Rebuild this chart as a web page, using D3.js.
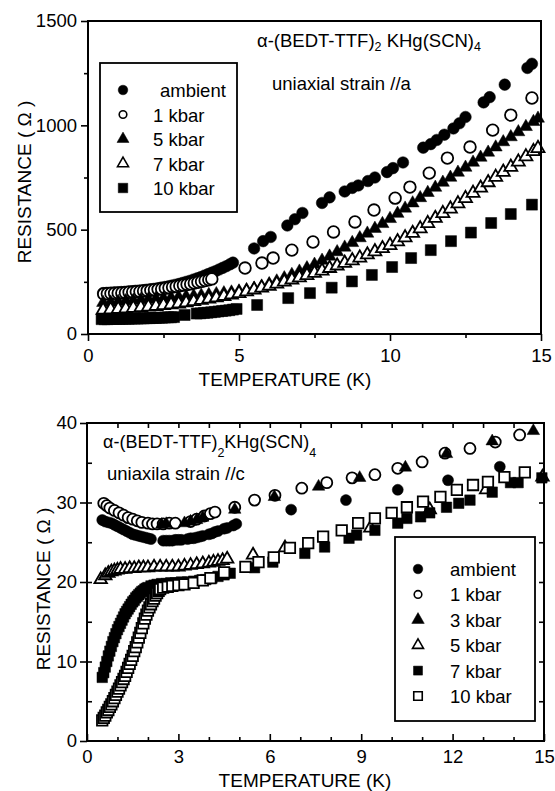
<!DOCTYPE html>
<html>
<head>
<meta charset="utf-8">
<script src="https://cdn.jsdelivr.net/npm/d3@7/dist/d3.min.js"></script>
<style>
  html, body { margin: 0; padding: 0; background: #fff; }
  svg { display: block; font-family: "Liberation Sans", Arial, Helvetica, sans-serif; }
</style>
</head>
<body>
<svg id="chart" width="555" height="791"></svg>
<script>
// ---------- Upper panel: uniaxial strain //a  (T in K, R in ohm) ----------
const aAmbient = [
  [0.50,196],[0.62,197],[0.74,198],[0.86,199],[0.98,200],[1.10,201],[1.22,202],[1.34,204],
  [1.46,205],[1.58,207],[1.70,208],[1.82,210],[1.94,212],[2.06,214],[2.18,216],[2.30,219],
  [2.42,222],[2.54,225],[2.66,228],[2.78,232],[2.90,236],[3.02,240],[3.14,245],[3.26,250],
  [3.38,255],[3.50,261],[3.62,267],[3.74,273],[3.86,280],[3.98,287],[4.10,294],[4.22,301],
  [4.34,309],[4.46,317],[4.58,325],[4.70,334],[4.80,342],
  [5.50,410],[5.80,445],[6.05,465],[6.60,520],[6.85,550],[7.10,580],[7.75,628],[8.00,655],
  [8.50,683],[8.75,700],[8.95,712],[9.27,733],[9.50,750],[9.90,776],[10.10,795],[10.43,822],
  [11.10,893],[11.35,910],[11.55,930],[11.80,955],[12.10,985],[12.30,1010],[12.50,1040],
  [13.10,1110],[13.30,1135],[13.80,1195],[14.55,1275],[14.70,1295]
];
const a1kbar = [
  [0.52,192],[0.64,193],[0.76,194],[0.88,195],[1.00,196],[1.12,197],[1.24,198],[1.36,200],
  [1.48,201],[1.60,203],[1.72,204],[1.84,206],[1.96,208],[2.08,210],[2.20,212],[2.32,214],
  [2.44,216],[2.56,219],[2.68,222],[2.80,225],[2.92,228],[3.04,231],[3.16,234],[3.28,237],
  [3.40,240],[3.52,244],[3.64,248],[3.76,252],[3.88,256],[4.00,260],[4.10,264],
  [5.20,316],[5.76,340],[6.13,364],[6.75,402],[7.45,441],[8.13,489],[8.84,537],[9.47,594],
  [10.17,651],[10.66,704],[11.30,771],[11.90,843],[12.65,896],[13.40,977],[14.00,1049],[14.70,1131]
];
const a5kbar = [
  [0.50,150],[0.75,152],[1.00,155],[1.25,158],[1.50,160],[1.75,163],[2.00,166],[2.25,169],
  [2.50,171],[2.75,174],[3.00,177],[3.25,180],[3.50,182],[3.75,185],[4.00,188],[4.25,192],
  [4.50,196],[4.75,200],[5.00,205],[5.25,211],[5.50,218],[5.75,228],[6.00,240],[6.25,253],
  [6.50,268],[6.75,284],[7.00,300],[7.25,316],[7.50,333],[7.75,352],[8.00,372],[8.25,393],
  [8.50,415],[8.75,437],[9.00,460],[9.25,482],[9.50,505],[9.75,528],[10.00,552],[10.25,577],
  [10.50,602],[10.75,627],[11.00,652],[11.25,677],[11.50,702],[11.75,726],[12.00,750],[12.25,774],
  [12.50,798],[12.75,822],[13.00,846],[13.25,870],[13.50,895],[13.75,920],[14.00,944],[14.25,968],
  [14.50,993],[14.75,1017],[14.90,1033]
];
const a7kbar = [
  [0.50,115],[0.75,117],[1.00,119],[1.25,121],[1.50,124],[1.75,127],[2.00,130],[2.25,133],
  [2.50,137],[2.75,141],[3.00,145],[3.25,150],[3.50,156],[3.75,162],[4.00,168],[4.25,174],
  [4.50,181],[4.75,188],[5.00,195],[5.25,203],[5.50,212],[5.75,221],[6.00,230],[6.25,240],
  [6.50,250],[6.75,260],[7.00,270],[7.25,281],[7.50,292],[7.75,303],[8.00,315],[8.25,327],
  [8.50,340],[8.75,352],[9.00,365],[9.25,380],[9.50,395],[9.75,410],[10.00,425],[10.25,443],
  [10.50,462],[10.75,483],[11.00,505],[11.25,530],[11.50,555],[11.75,578],[12.00,600],[12.25,625],
  [12.50,650],[12.75,675],[13.00,700],[13.25,726],[13.50,752],[13.75,776],[14.00,800],[14.25,825],
  [14.50,850],[14.75,875],[14.90,890]
];
const a10kbar = [
  [0.45,71],[0.55,71],[0.65,71],[0.75,72],[0.85,72],[0.95,72],[1.05,72],[1.15,73],[1.25,73],
  [1.35,73],[1.45,74],[1.55,74],[1.65,74],[1.75,75],[1.85,75],[1.95,76],[2.05,76],[2.15,77],
  [2.25,77],[2.35,78],[2.45,78],[2.55,79],[2.65,80],[2.75,80],[2.85,81],[3.20,91],
  [3.60,98],[3.72,99],[3.84,101],[3.96,102],[4.08,104],[4.20,106],[4.32,108],[4.44,110],
  [4.56,112],[4.68,114],[4.80,117],[4.92,120],[5.60,139],[6.63,172],[7.35,196],[8.07,222],
  [8.74,252],[9.40,283],[10.07,321],[10.70,364],[11.35,402],[12.02,445],[12.68,486],
  [13.35,532],[14.00,575],[14.70,620]
];

// ---------- Lower panel: uniaxial strain //c ----------
const cAmbient = [
  [0.50,27.8],[0.60,27.6],[0.70,27.5],[0.80,27.4],[0.90,27.2],[1.00,27.0],[1.10,26.8],[1.20,26.6],
  [1.30,26.4],[1.40,26.2],[1.50,26.0],[1.60,25.9],[1.70,25.8],[1.80,25.7],[1.90,25.6],[2.00,25.5],
  [2.10,25.4],[2.50,25.2],[2.60,25.2],[2.70,25.2],[2.80,25.2],[2.90,25.3],[3.00,25.3],[3.10,25.3],
  [3.30,25.4],[3.40,25.5],[3.50,25.5],[3.60,25.6],[3.70,25.7],[3.80,25.8],[4.00,26.0],[4.10,26.1],
  [4.20,26.3],[4.30,26.4],[4.50,26.7],[4.60,26.8],[4.80,27.1],[4.90,27.3],
  [6.70,29.1],[8.50,30.3],[10.20,31.6],[11.85,32.8],[13.55,34.5]
];
const c1kbar = [
  [0.55,29.9],[0.65,29.6],[0.75,29.3],[0.90,29.0],[1.05,28.7],[1.20,28.4],[1.35,28.1],[1.50,27.9],
  [1.65,27.7],[1.80,27.5],[2.00,27.4],[2.15,27.3],[2.30,27.3],[2.50,27.3],[2.70,27.4],[2.90,27.4],
  [3.40,27.6],[3.60,27.9],[3.85,28.3],[4.05,28.6],[4.20,28.8],[4.85,29.4],
  [5.50,30.3],[6.17,30.9],[7.05,31.8],[7.87,32.5],[8.70,33.1],[9.45,33.5],[10.20,34.3],
  [11.00,35.1],[11.75,36.2],[12.57,36.8],[13.40,37.6],[14.20,38.5]
];
const c3kbar = [
  [2.45,27.2],[2.60,27.3],[3.20,27.4],[3.40,27.6],[3.60,27.8],[3.80,28.1],[4.85,29.1],
  [6.15,30.7],[7.60,32.0],[8.95,33.1],[10.45,34.4],[11.80,36.1],[13.30,37.7],[14.65,39.0]
];
const c5kbar = [
  [0.45,20.3],[0.60,20.8],[0.70,21.1],[0.80,21.3],[0.90,21.4],[1.00,21.5],[1.10,21.6],[1.25,21.6],
  [1.40,21.7],[1.55,21.7],[1.70,21.8],[1.85,21.8],[2.00,21.8],[2.20,21.9],[2.40,21.9],[2.60,21.9],
  [2.80,21.9],[3.00,21.9],[3.20,22.0],[3.40,22.1],[3.60,22.2],[3.80,22.3],[4.00,22.4],[4.15,22.5],
  [4.30,22.6],[4.45,22.7],[4.60,22.9],[5.45,23.4],[6.50,24.3],[9.30,26.8],[11.25,29.1],
  [13.10,31.6],[14.95,33.2]
];
const c7kbar = [
  [0.50,8.0],[0.55,8.6],[0.60,9.3],[0.65,10.0],[0.70,10.7],[0.75,11.3],[0.80,11.9],[0.85,12.5],
  [0.90,13.0],[0.95,13.5],[1.00,14.0],[1.05,14.4],[1.10,14.8],[1.15,15.2],[1.20,15.6],[1.25,16.0],
  [1.30,16.3],[1.35,16.6],[1.40,16.9],[1.45,17.2],[1.50,17.5],[1.55,17.7],[1.60,18.0],[1.65,18.2],
  [1.70,18.4],[1.75,18.6],[1.80,18.8],[1.85,18.9],[1.90,19.1],[1.95,19.2],[2.00,19.3],[2.10,19.5],
  [2.20,19.6],[2.30,19.7],[2.45,19.8],[2.60,19.8],[2.75,19.9],[2.90,19.9],[3.10,20.0],[3.30,20.0],
  [3.50,20.1],[3.70,20.2],[3.90,20.3],[4.10,20.5],[4.30,20.7],[4.50,20.9],[4.70,21.1],
  [5.50,21.8],[6.10,22.5],[7.15,23.6],[7.80,24.4],[8.60,25.5],[8.85,25.9],[9.45,26.5],
  [10.20,27.4],[10.50,28.0],[10.95,28.2],[11.25,28.7],[11.80,29.4],[12.20,29.9],[12.57,30.3],
  [13.30,31.3],[13.90,32.5],[14.15,32.5],[14.93,33.1]
];
const c10kbar = [
  [0.50,2.6],[0.55,2.9],[0.60,3.2],[0.65,3.6],[0.70,3.9],[0.75,4.3],[0.80,4.6],[0.85,5.0],
  [0.90,5.4],[0.95,5.8],[1.00,6.2],[1.05,6.6],[1.10,7.0],[1.15,7.4],[1.20,7.8],[1.25,8.2],
  [1.30,8.7],[1.35,9.2],[1.40,9.7],[1.45,10.2],[1.50,10.7],[1.55,11.3],[1.60,11.8],[1.65,12.4],
  [1.70,13.0],[1.75,13.6],[1.80,14.2],[1.85,14.8],[1.90,15.4],[1.95,15.9],[2.00,16.4],[2.05,16.8],
  [2.10,17.2],[2.15,17.6],[2.20,17.9],[2.25,18.3],[2.30,18.6],[2.35,18.9],[2.40,19.1],[2.50,19.3],
  [2.65,19.4],[2.80,19.5],[3.00,19.6],[3.20,19.7],[3.50,19.9],[3.80,20.2],[4.05,20.5],[4.50,21.2],
  [5.20,21.9],[5.63,22.5],[6.13,23.1],[6.66,24.3],[7.26,24.9],[7.75,25.7],[8.36,26.5],[8.90,27.4],
  [9.45,28.0],[10.00,28.7],[10.50,29.4],[11.03,30.1],[11.60,30.7],[12.14,31.6],[12.67,32.2],
  [13.16,32.6],[13.70,33.2],[14.37,33.8]
];

// ---------- Legends and ticks ----------
const topLabels = ["ambient", "1 kbar", "5 kbar", "7 kbar", "10 kbar"];
const botLabels = ["ambient", "1 kbar", "3 kbar", "5 kbar", "7 kbar", "10 kbar"];
const topXTicks = [0, 5, 10, 15];
const topXMinor = [2.5, 7.5, 12.5];
const topYTicks = [0, 500, 1000, 1500];
const topYMinor = [250, 750, 1250];
const botXTicks = [0, 3, 6, 9, 12, 15];
const botXMinor = [1, 2, 4, 5, 7, 8, 10, 11, 13, 14];
const botYTicks = [0, 10, 20, 30, 40];
const botYAll = [0, 5, 10, 15, 20, 25, 30, 35, 40];

const svg = d3.select("#chart");
const FONT = 18.5;
const plain = d3.format("d");

// marker shapes: fc/oc filled/open circle, ft/ot triangle, fs/os square
function symbolFor(kind, s) {
  const shape = kind[1];
  if (shape === "c") return d3.symbol(d3.symbolCircle, Math.PI * s.r * s.r);
  if (shape === "t") return d3.symbol(d3.symbolTriangle, s.t * s.t * Math.sqrt(3) / 4);
  return d3.symbol(d3.symbolSquare, s.q * s.q);
}
function drawMarks(g, pts, kind, s, x, y) {
  const filled = kind[0] === "f";
  g.append("g").selectAll("path").data(pts).join("path")
    .attr("transform", d => `translate(${x(d[0])},${y(d[1])})`)
    .attr("d", symbolFor(kind, s))
    .attr("fill", filled ? "#000" : "#fff")
    .attr("stroke", "#000")
    .attr("stroke-width", filled ? 0.5 : 1.8);
}
function styleAxis(sel) {
  sel.select(".domain").remove();
  sel.selectAll("line").attr("stroke", "#000").attr("stroke-width", 1.6);
  sel.selectAll("text").attr("font-size", FONT).attr("fill", "#000")
    .attr("font-family", '"Liberation Sans", Arial, sans-serif');
}

// ================= Upper panel =================
{
  const x = d3.scaleLinear().domain([0, 15]).range([88, 541]);
  const y = d3.scaleLinear().domain([0, 1500]).range([334, 21]);
  const g = svg.append("g");

  const series = [
    [aAmbient, "fc"], [a1kbar, "oc"], [a5kbar, "ft"], [a7kbar, "ot"], [a10kbar, "fs"]
  ];
  const sz = { r: 5.8, t: 13, q: 11 };
  series.forEach(([pts, kind]) => drawMarks(g, pts, kind, sz, x, y));

  g.append("g").attr("transform", "translate(0,334)")
    .call(d3.axisBottom(x).tickValues(topXTicks).tickSize(7).tickPadding(8).tickFormat(plain)).call(styleAxis);
  g.append("g").attr("transform", "translate(0,334)")
    .call(d3.axisBottom(x).tickValues(topXMinor).tickSize(4).tickFormat("")).call(styleAxis);
  g.append("g").attr("transform", "translate(88,0)")
    .call(d3.axisLeft(y).tickValues(topYTicks).tickSize(7).tickPadding(4).tickFormat(plain)).call(styleAxis);
  g.append("g").attr("transform", "translate(88,0)")
    .call(d3.axisLeft(y).tickValues(topYMinor).tickSize(4).tickFormat("")).call(styleAxis);

  g.append("rect").attr("x", x(0)).attr("y", y(1500))
    .attr("width", x(15) - x(0)).attr("height", y(0) - y(1500))
    .attr("fill", "none").attr("stroke", "#000").attr("stroke-width", 2);

  // compound name and strain direction
  const t = g.append("text").attr("x", 257).attr("y", 47).attr("font-size", FONT);
  t.append("tspan").text("α-(BEDT-TTF)");
  t.append("tspan").attr("font-size", 12.5).attr("dy", 4).text("2");
  t.append("tspan").attr("dy", -4).text(" KHg(SCN)");
  t.append("tspan").attr("font-size", 12.5).attr("dy", 4).text("4");
  g.append("text").attr("x", 272).attr("y", 90).attr("font-size", FONT).text("uniaxial strain //a");

  // axis titles
  g.append("text").attr("x", 285).attr("y", 386).attr("text-anchor", "middle")
    .attr("font-size", 19).text("TEMPERATURE (K)");
  g.append("text").attr("transform", "translate(31,182) rotate(-90)").attr("text-anchor", "middle")
    .attr("font-size", 19).text("RESISTANCE ( Ω )");

  // legend
  const lg = g.append("g");
  lg.append("rect").attr("x", 100).attr("y", 63).attr("width", 137).attr("height", 149)
    .attr("fill", "#fff").attr("stroke", "#000").attr("stroke-width", 1.8);
  const ly = d3.scalePoint().domain(topLabels).range([90, 188]);
  const lsz = { r: 4.8, t: 12, q: 9.5 };
  const osz = { r: 3.8, t: 11, q: 9 };
  topLabels.forEach((lab, i) => {
    const kind = series[i][1];
    lg.append("path").attr("transform", `translate(123,${ly(lab)})`)
      .attr("d", symbolFor(kind, kind[0] === "f" ? lsz : osz))
      .attr("fill", kind[0] === "f" ? "#000" : "#fff").attr("stroke", "#000")
      .attr("stroke-width", kind[0] === "f" ? 0.5 : 1.6);
    lg.append("text").attr("x", i === 0 ? 160 : 153).attr("y", ly(lab) + 7)
      .attr("font-size", FONT).text(lab);
  });
}

// ================= Lower panel =================
{
  const x = d3.scaleLinear().domain([0, 15]).range([87, 544]);
  const y = d3.scaleLinear().domain([0, 40]).range([741, 423]);
  const g = svg.append("g");

  const series = [
    [cAmbient, "fc"], [c1kbar, "oc"], [c3kbar, "ft"], [c5kbar, "ot"], [c7kbar, "fs"], [c10kbar, "os"]
  ];
  const sz = { r: 5.5, t: 12.5, q: 10.5 };
  series.forEach(([pts, kind]) => drawMarks(g, pts, kind, sz, x, y));

  // bottom: inward ticks with labels
  g.append("g").attr("transform", "translate(0,741)")
    .call(d3.axisBottom(x).tickValues(botXTicks).tickSize(-7).tickPadding(9).tickFormat(plain)).call(styleAxis);
  g.append("g").attr("transform", "translate(0,741)")
    .call(d3.axisBottom(x).tickValues(botXMinor).tickSize(-4).tickFormat("")).call(styleAxis);
  // top: inward ticks every kelvin
  g.append("g").attr("transform", "translate(0,423)")
    .call(d3.axisTop(x).tickValues(d3.range(1, 15)).tickSize(-5).tickFormat("")).call(styleAxis);
  // left: majors cross the axis, all ticks point inward
  g.append("g").attr("transform", "translate(87,0)")
    .call(d3.axisLeft(y).tickValues(botYTicks).tickSize(7).tickPadding(3).tickFormat(plain)).call(styleAxis);
  g.append("g").attr("transform", "translate(87,0)")
    .call(d3.axisLeft(y).tickValues(botYAll.slice(1, -1)).tickSize(-5).tickFormat("")).call(styleAxis);
  // right: inward ticks
  g.append("g").attr("transform", "translate(544,0)")
    .call(d3.axisRight(y).tickValues(botYAll.slice(1, -1)).tickSize(-5).tickFormat("")).call(styleAxis);

  g.append("rect").attr("x", x(0)).attr("y", y(40))
    .attr("width", x(15) - x(0)).attr("height", y(0) - y(40))
    .attr("fill", "none").attr("stroke", "#000").attr("stroke-width", 2);

  const t = g.append("text").attr("x", 103).attr("y", 448).attr("font-size", 18);
  t.append("tspan").text("α-(BEDT-TTF)");
  t.append("tspan").attr("font-size", 12.5).attr("dy", 9).text("2");
  t.append("tspan").attr("dy", -9).text("KHg(SCN)");
  t.append("tspan").attr("font-size", 12.5).attr("dy", 9).text("4");
  g.append("text").attr("x", 107).attr("y", 480).attr("font-size", 18.5).text("uniaxila strain //c");

  g.append("text").attr("x", 305).attr("y", 787).attr("text-anchor", "middle")
    .attr("font-size", 19).text("TEMPERATURE (K)");
  g.append("text").attr("transform", "translate(50,589) rotate(-90)").attr("text-anchor", "middle")
    .attr("font-size", 19).text("RESISTANCE ( Ω )");

  const lg = g.append("g");
  lg.append("rect").attr("x", 395).attr("y", 537).attr("width", 140).attr("height", 184)
    .attr("fill", "#fff").attr("stroke", "#000").attr("stroke-width", 1.8);
  const ly = d3.scalePoint().domain(botLabels).range([569, 696]);
  const lsz = { r: 4.8, t: 12.5, q: 9 };
  const osz = { r: 3.8, t: 11, q: 8.5 };
  botLabels.forEach((lab, i) => {
    const kind = series[i][1];
    lg.append("path").attr("transform", `translate(418,${ly(lab)})`)
      .attr("d", symbolFor(kind, kind[0] === "f" ? lsz : osz))
      .attr("fill", kind[0] === "f" ? "#000" : "#fff").attr("stroke", "#000")
      .attr("stroke-width", kind[0] === "f" ? 0.5 : 1.6);
    lg.append("text").attr("x", 450).attr("y", ly(lab) + 7)
      .attr("font-size", FONT).text(lab);
  });
}
</script>
</body>
</html>
